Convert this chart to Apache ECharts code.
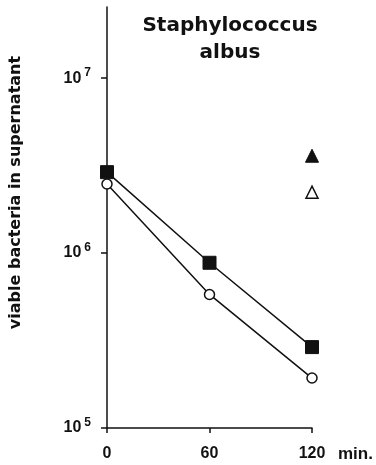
<!DOCTYPE html>
<html>
<head>
<meta charset="utf-8">
<script src="https://cdn.jsdelivr.net/npm/echarts@6/dist/echarts.min.js"></script>
<style>
html, body { margin: 0; padding: 0; background: #fff; }
#chart { width: 376px; height: 465px; }
</style>
</head>
<body>
<div id="chart"></div>
<script>
// time points (min)
var minutes = [0, 60, 120];
// viable bacteria, filled squares / open circles
var filledSquare = [2.9e6, 8.8e5, 2.9e5];
var openCircle = [2.48e6, 5.8e5, 1.93e5];
// single triangles at 120 min
var filledTriangle = [[120, 3.6e6]];
var openTriangle = [[120, 2.23e6]];
var yTicks = [1e5, 1e6, 1e7];

var font = 'Liberation Sans';
var font2 = 'DejaVu Sans';

function pairs(xs, ys) {
	var out = [];
	for (var i = 0; i < xs.length; i++) {
		out.push([xs[i], ys[i]]);
	}
	return out;
}

var myChart = echarts.init(document.getElementById('chart'), null, { renderer: 'canvas' });

var option = {
	backgroundColor: '#fff',
	animation: false,
	title: {
		text: 'Staphylococcus\nalbus',
		left: 225,
		top: 7,
		textAlign: 'center',
		textStyle: { fontFamily: font2, fontSize: 20, fontWeight: 'bold', color: '#111', lineHeight: 27 }
	},
	grid: { left: 107, right: 64, top: 7, bottom: 37, containLabel: false },
	xAxis: {
		type: 'value',
		min: 0,
		max: 120,
		interval: 60,
		name: 'min.',
		nameLocation: 'end',
		nameGap: 26,
		nameTextStyle: { fontFamily: font, fontSize: 17, fontWeight: 'bold', color: '#111', verticalAlign: 'top', padding: [18, 0, 0, 0] },
		axisLine: { lineStyle: { color: '#111', width: 1.5 } },
		axisTick: { show: true, length: 5, inside: false, lineStyle: { color: '#111', width: 1.5 } },
		axisLabel: { margin: 18, fontFamily: font, fontSize: 16, fontWeight: 'bold', color: '#111' },
		splitLine: { show: false }
	},
	yAxis: {
		type: 'log',
		logBase: 10,
		min: 1e5,
		max: 2.55e7,
		name: 'viable bacteria in supernatant',
		nameLocation: 'middle',
		nameGap: 83,
		nameRotate: 90,
		nameTextStyle: { fontFamily: font2, fontSize: 16, fontWeight: 'bold', color: '#111', padding: [0, 0, 0, 50] },
		axisLine: { show: true, lineStyle: { color: '#111', width: 1.5 } },
		axisTick: { show: true, length: 6, customValues: yTicks, lineStyle: { color: '#111', width: 1.5 } },
		axisLabel: {
			margin: 16,
			customValues: yTicks,
			formatter: function(v) {
				var e = Math.round(Math.log(v) / Math.LN10);
				return '{b|10}{s|' + e + '}';
			},
			rich: {
				b: { fontFamily: font, fontSize: 16, fontWeight: 'bold', color: '#111' },
				s: { fontFamily: font, fontSize: 12, fontWeight: 'bold', color: '#111', padding: [0, 0, 10, 3] }
			}
		},
		splitLine: { show: false }
	},
	series: [
		{
			type: 'line',
			data: pairs(minutes, filledSquare),
			symbol: 'rect',
			symbolSize: 13,
			lineStyle: { color: '#111', width: 1.5 },
			itemStyle: { color: '#111', borderColor: '#111', borderWidth: 1 },
			z: 3
		},
		{
			type: 'line',
			data: pairs(minutes, openCircle),
			symbol: 'circle',
			symbolSize: 10,
			showAllSymbol: true,
			lineStyle: { color: '#111', width: 1.5 },
			itemStyle: { color: '#fff', borderColor: '#111', borderWidth: 1.5 },
			z: 4
		},
		{
			type: 'scatter',
			data: filledTriangle,
			symbol: 'triangle',
			symbolSize: 13,
			itemStyle: { color: '#111', borderColor: '#111', borderWidth: 1, opacity: 1 }
		},
		{
			type: 'scatter',
			data: openTriangle,
			symbol: 'triangle',
			symbolSize: 12,
			itemStyle: { color: '#fff', borderColor: '#111', borderWidth: 1.5, opacity: 1 }
		}
	]
};

myChart.setOption(option);
</script>
</body>
</html>
